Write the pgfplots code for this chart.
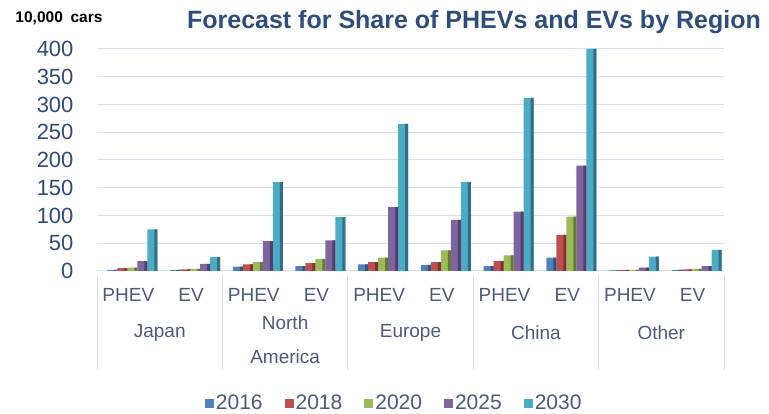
\documentclass[border=0pt]{standalone}
\usepackage{pgfplots}
\usepackage{pgfplotstable}
\pgfplotsset{compat=1.18}
\usepackage{fontspec}
\setmainfont{Liberation Sans}
\definecolor{c16}{HTML}{4F81BD}
\definecolor{c18}{HTML}{C0504D}
\definecolor{c20}{HTML}{9BBB59}
\definecolor{c25}{HTML}{8064A2}
\definecolor{c30}{HTML}{4BACC6}
\definecolor{titleblue}{HTML}{2C4D7E}
\definecolor{tickblue}{HTML}{2F4A78}
\definecolor{labgray}{HTML}{4A5A78}
\definecolor{gridc}{HTML}{D6E0EE}
\pgfplotstableread{
x y16 y18 y20 y25 y30
0 2  5  6  18  75
1 2  3  4  13  25
2 8  12 16 54  160
3 9  14 22 55  97
4 12 16 24 115 265
5 11 16 37 92  160
6 9  18 28 107 312
7 24 65 98 190 400
8 1  2  2  6   26
9 2  3  4  9   38
}\data
\begin{document}
\begin{tikzpicture}
\useasboundingbox (0,0) rectangle (769pt,414pt);
\node[font=\bfseries\fontsize{25}{28}\selectfont, text=titleblue] at (474pt,392pt) {Forecast for Share of PHEVs and EVs by Region};
\node[font=\bfseries\fontsize{15.5}{18}\selectfont] at (59pt,396pt) {10,000\,\,\,cars};
\begin{axis}[
  at={(97pt,143pt)}, anchor=south west,
  scale only axis, width=627pt, height=222pt,
  ybar, bar width=10pt,
  xmin=-0.5, xmax=9.5, ymin=0, ymax=400,
  ytick={0,50,...,400},
  xtick={0,...,9},
  xticklabels={PHEV,EV,PHEV,EV,PHEV,EV,PHEV,EV,PHEV,EV},
  axis line style={draw=none},
  tick style={draw=none},
  ymajorgrids, major grid style={gridc, line width=1pt},
  /pgf/number format/assume math mode=true,
  yticklabel style={font=\fontsize{22}{24}\selectfont, text=tickblue, xshift=-20pt},
  xticklabel style={font=\fontsize{19}{21}\selectfont, text=labgray, yshift=-10pt},
  clip=false,
  legend style={at={(0.474,-0.595)}, anchor=center, draw=none, legend columns=5,
    font=\fontsize{21}{23}\selectfont, text=labgray, /tikz/every even column/.append style={column sep=20pt}},
  legend image code/.code={\fill[#1] (1pt,-4.5pt) rectangle (10pt,4.5pt);},
  every axis plot/.append style={draw=none},
]
\addplot[fill=c16, bar shift=-16pt] table[x=x, y=y16] {\data};
\addplot[fill=c18, bar shift=-6pt] table[x=x, y=y18] {\data};
\addplot[fill=c20, bar shift=4pt] table[x=x, y=y20] {\data};
\addplot[fill=c25, bar shift=14pt] table[x=x, y=y25] {\data};
\addplot[fill=c30, bar shift=24pt] table[x=x, y=y30] {\data};
\legend{2016,2018,2020,2025,2030}
\addplot[forget plot, fill=c16!65!black, bar width=3pt, bar shift=-12.5pt] table[x=x, y=y16] {\data};
\addplot[forget plot, fill=c18!65!black, bar width=3pt, bar shift=-2.5pt] table[x=x, y=y18] {\data};
\addplot[forget plot, fill=c20!65!black, bar width=3pt, bar shift=7.5pt] table[x=x, y=y20] {\data};
\addplot[forget plot, fill=c25!65!black, bar width=3pt, bar shift=17.5pt] table[x=x, y=y25] {\data};
\addplot[forget plot, fill=c30!65!black, bar width=3pt, bar shift=27.5pt] table[x=x, y=y30] {\data};
\pgfplotsinvokeforeach{-0.5,1.5,3.5,5.5,7.5,9.5}{
  \draw[gridc, line width=0.8pt] ([yshift=-4pt]axis cs:#1,0) -- ([yshift=-99pt]axis cs:#1,0);
}
\node[font=\fontsize{19}{21}\selectfont, text=labgray] at (axis cs:0.5,0) [yshift=-62pt] {Japan};
\node[font=\fontsize{19}{21}\selectfont, text=labgray] at (axis cs:4.5,0) [yshift=-62pt] {Europe};
\node[font=\fontsize{19}{21}\selectfont, text=labgray] at (axis cs:6.5,0) [yshift=-62pt] {China};
\node[font=\fontsize{19}{21}\selectfont, text=labgray] at (axis cs:8.5,0) [yshift=-62pt] {Other};
\node[font=\fontsize{19}{21}\selectfont, text=labgray, align=center] at (axis cs:2.5,0) [yshift=-69pt] {North\\[13pt]America};
\end{axis}
\end{tikzpicture}
\end{document}
